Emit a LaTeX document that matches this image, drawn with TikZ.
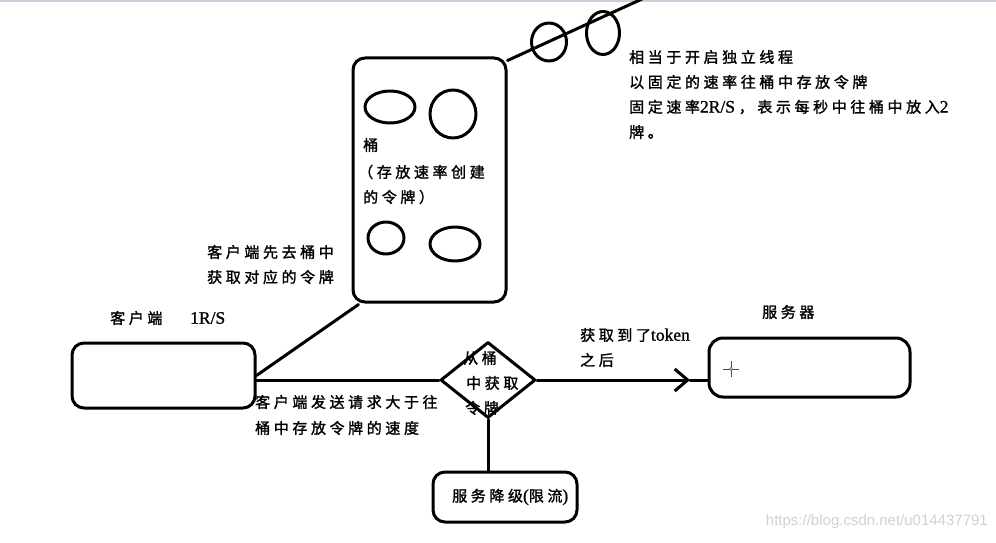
\documentclass[tikz,border=0pt]{standalone}
\usepackage{fontspec}
\setmainfont{Liberation Serif}[FakeBold=1]
\newfontfamily\cjk[LetterSpace=24,FakeBold=1.5]{Noto Sans CJK SC}
\newfontfamily\wmfont{Liberation Sans}
\usetikzlibrary{shapes.geometric,arrows.meta,calc}
\definecolor{topbar}{RGB}{200,210,222}
\newcommand{\lat}[1]{{\fontsize{17.5}{20}\selectfont #1}}
\tikzset{
  thick line/.style={line width=3pt, line cap=round, line join=round},
  roundbox/.style={draw, thick line, rounded corners=12pt, inner sep=0pt, fill=white},
  token/.style={draw, thick line, ellipse, inner sep=0pt},
  txt/.style={inner sep=0pt, anchor=west, font=\fontsize{15}{20}\selectfont},
}
\begin{document}
\begin{tikzpicture}[x=1pt,y=-1pt]
\useasboundingbox (0,0) rectangle (996,543);
\clip (0,0) rectangle (996,543);
\fill[white] (0,0) rectangle (996,543);
\fill[topbar] (0,0) rectangle (996,2);

% bucket
\node[roundbox, minimum width=153pt, minimum height=244pt] (bucket) at (429.5,180) {};
\node[token, minimum width=50pt, minimum height=32pt] (b1) at (390,107) {};
\node[token, minimum width=46pt, minimum height=48pt] (b2) at (453,114) {};
\node[token, minimum width=36pt, minimum height=32pt] (b3) at (386,238) {};
\node[token, minimum width=50pt, minimum height=34pt] (b4) at (455,244) {};
\node[txt] (bt1) at (363,145) {\cjk 桶};
\node[txt] (bt2) at (358,172) {\cjk （存放速率创建};
\node[txt] (bt3) at (363,197) {\cjk 的令牌）};

% token producer line
\coordinate (feed) at (642,-1);
\draw[thick line] ([yshift=-4pt]bucket.north east) -- (feed);
\node[token, minimum width=35pt, minimum height=38pt] (e1) at (549,42) {};
\node[token, minimum width=33pt, minimum height=43pt] (e2) at (603,33) {};

% right text
\node[txt] (r1) at (629,57) {\cjk 相当于开启独立线程};
\node[txt] (r2) at (629,82) {\cjk 以固定的速率往桶中存放令牌};
\begin{scope}
\clip (0,0) rectangle (957,543);
\node[txt] (r3) at (629,107) {{\cjk 固定速率}\lat{2R/S} {\cjk ，表示每秒中往桶中放入}\lat{2}};
\end{scope}
\node[txt] (r4) at (629,132) {\cjk 牌。};

% client
\node[roundbox, minimum width=183pt, minimum height=65pt] (client) at (163.5,375.5) {};
\node[txt] (ct) at (110,318) {\cjk 客户端};
\node[txt] (cr) at (190,318) {\lat{1R/S}};
\node[txt] (l1) at (207,252) {\cjk 客户端先去桶中};
\node[txt] (l2) at (207,277) {\cjk 获取对应的令牌};

% diamond
\node[txt] (d1) at (463,358) {\cjk 从桶};
\node[txt] (d2) at (466,383) {\cjk 中获取};
\node[txt] (d3) at (465,408) {\cjk 令牌};
\node[draw, thick line, diamond, minimum width=95pt, minimum height=76pt, inner sep=0pt] (d) at (488,380) {};

\draw[thick line] (client.east) -- ([xshift=7pt,yshift=-1pt]bucket.south west);
\draw[thick line] (client.east |- d.west) -- (d.west);
\node[txt] (s1) at (255,402) {\cjk 客户端发送请求大于往};
\node[txt] (s2) at (255,428) {\cjk 桶中存放令牌的速度};

% server
\node[roundbox, minimum width=201pt, minimum height=59pt, rounded corners=14pt] (srv) at (809.5,367.5) {};
\node[txt] (st) at (762,312) {\cjk 服务器};
\coordinate (tip) at (690,380);
\draw[thick line, -{Straight Barb[length=13pt,width=22pt,line width=3pt]}] (d.east) -- (tip);
\draw[thick line] (tip) -- (d.east -| srv.west);
\node[txt] (g1) at (580,335) {{\cjk 获取到了}\lat{token}};
\node[txt] (g2) at (580,360) {\cjk 之后};

% cursor mark
\coordinate (cur) at (731,369);
\draw[black!70, line width=0.6pt] ([xshift=-8pt]cur) -- ([xshift=8pt]cur) ([yshift=-8pt]cur) -- ([yshift=8pt]cur);
\fill[white] (cur) circle (1.5pt);
\draw[black!70, line width=0.5pt] (cur) circle (1.5pt);

% degrade
\node[roundbox, minimum width=144pt, minimum height=50pt] (deg) at (505,497) {};
\node[txt] (dt) at (452,497) {{\cjk 服务降级}\lat{(}{\cjk 限流}\lat{)}};
\draw[thick line] (d.south) -- (d.south |- deg.north);

% watermark
\node[inner sep=0pt, anchor=east, text=black!18, font=\wmfont\fontsize{15}{18}\selectfont] (wm) at (988,522) {https://blog.csdn.net/u014437791};
\end{tikzpicture}
\end{document}
